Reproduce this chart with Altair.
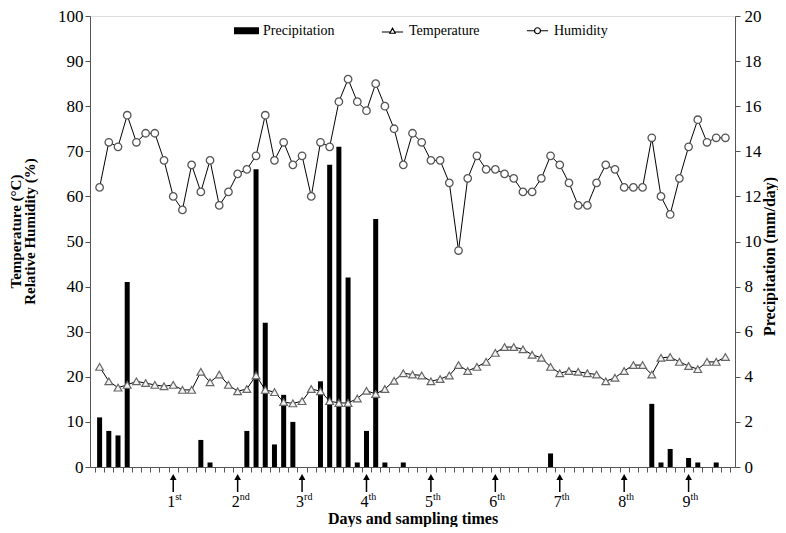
import altair as alt
import pandas as pd

# ---- data ----
humidity = [62, 72, 71, 78, 72, 74, 74, 68, 60, 57, 67, 61, 68, 58, 61, 65, 66, 69, 78, 68,
            72, 67, 69, 60, 72, 71, 81, 86, 81, 79, 85, 80, 75, 67, 74, 72, 68, 68, 63, 48,
            64, 69, 66, 66, 65, 64, 61, 61, 64, 69, 67, 63, 58, 58, 63, 67, 66, 62, 62, 62,
            73, 60, 56, 64, 71, 77, 72, 73, 73]
temperature = [22.2, 19.0, 17.6, 18.2, 19.0, 18.6, 18.2, 17.9, 18.2, 17.1, 17.1, 21.1, 18.8, 20.5,
               18.2, 16.8, 17.3, 20.3, 17.1, 16.6, 14.4, 14.1, 14.6, 17.3, 16.8, 14.6, 14.2, 14.2,
               15.2, 16.9, 16.2, 17.3, 19.1, 20.8, 20.5, 20.3, 19.0, 19.5, 20.3, 22.6, 21.3, 22.2,
               23.3, 25.3, 26.6, 26.6, 26.1, 24.9, 24.2, 22.2, 20.8, 21.3, 21.1, 20.8, 20.5, 19.0,
               19.8, 21.3, 22.6, 22.6, 20.5, 24.2, 24.4, 23.3, 22.4, 21.7, 23.3, 23.3, 24.4]
precipitation = [2.2, 1.6, 1.4, 8.2, 0, 0, 0, 0, 0, 0, 0, 1.2, 0.2, 0, 0, 0, 1.6, 13.2, 6.4, 1.0,
                 3.2, 2.0, 0, 0, 3.8, 13.4, 14.2, 8.4, 0.2, 1.6, 11.0, 0.2, 0, 0.2, 0, 0, 0, 0, 0, 0,
                 0, 0, 0, 0, 0, 0, 0, 0, 0, 0.6, 0, 0, 0, 0, 0, 0, 0, 0, 0, 0,
                 2.8, 0.2, 0.8, 0, 0.4, 0.2, 0, 0.2, 0]
sampling_days = [8, 15, 22, 29, 36, 43, 50, 57, 64]
sampling_nums = ["1", "2", "3", "4", "5", "6", "7", "8", "9"]
sampling_sups = ["st", "nd", "rd", "th", "th", "th", "th", "th", "th"]
series_names = ["Precipitation", "Temperature", "Humidity"]

n = len(humidity)
df = pd.DataFrame({"day": list(range(n)), "hum": humidity, "temp": temperature, "prec": precipitation})
samp = pd.DataFrame({"day": sampling_days, "num": sampling_nums, "sup": sampling_sups})
leg = pd.DataFrame({"series": series_names})

FONT = "Liberation Serif"
W, H = 645, 451
AX = "#555555"

xscale = alt.Scale(domain=[-0.5, n - 0.5], nice=False, zero=False)
xaxis = alt.Axis(values=[i - 0.5 for i in range(n + 1)], labels=False, tickSize=5, grid=False,
                 domainColor=AX, tickColor=AX, title="Days and sampling times",
                 titleFont=FONT, titleFontSize=16, titleFontWeight="bold", titleColor="black",
                 titleX=W / 2, titleY=51, titleBaseline="middle")
X = alt.X("day:Q", scale=xscale, axis=xaxis)

left_axis = alt.Axis(orient="left", values=list(range(0, 101, 10)), grid=False, tickSize=5,
                     labelPadding=2, labelFont=FONT, labelFontSize=17, labelColor="black",
                     domainColor=AX, tickColor=AX,
                     title=["Temperature (°C)", "Relative Humidity (%)"], titleFont=FONT,
                     titleFontSize=15, titleFontWeight="bold", titleColor="black",
                     titleX=-75, titleY=215, titleBaseline="middle", titleAlign="center",
                     titleAngle=270, titleLineHeight=14)
right_axis = alt.Axis(orient="right", values=list(range(0, 21, 2)), grid=False, tickSize=5,
                      labelPadding=4, labelFont=FONT, labelFontSize=17, labelColor="black",
                      domainColor=AX, tickColor=AX,
                      title="Precipitation (mm/day)", titleFont=FONT, titleFontSize=16,
                      titleFontWeight="bold", titleColor="black", titleAngle=270,
                      titleX=34, titleY=240, titleBaseline="middle", titleAlign="center")

lscale = alt.Scale(domain=[0, 100], nice=False, zero=True)
rscale = alt.Scale(domain=[0, 20], nice=False, zero=True)

bars = alt.Chart(df).mark_bar(size=5, color="black").encode(
    x=X, y=alt.Y("prec:Q", scale=rscale, axis=right_axis))

base = alt.Chart(df)
temp_line = base.mark_line(color="black", strokeWidth=1).encode(
    x=X, y=alt.Y("temp:Q", scale=lscale, axis=left_axis))
temp_pts = base.mark_point(shape="triangle-up", filled=True, fill="#f3f3f3", stroke="#666666",
                           strokeWidth=1.2, size=60, opacity=1).encode(
    x=X, y=alt.Y("temp:Q", scale=lscale, axis=left_axis))
hum_line = base.mark_line(color="black", strokeWidth=1).encode(
    x=X, y=alt.Y("hum:Q", scale=lscale, axis=left_axis))
hum_pts = base.mark_point(shape="circle", filled=True, fill="white", stroke="#555555",
                          strokeWidth=1.3, size=56, opacity=1).encode(
    x=X, y=alt.Y("hum:Q", scale=lscale, axis=left_axis))

sbase = alt.Chart(samp)
arrow_shaft = sbase.mark_rule(color="black", strokeWidth=1.5).encode(
    x=X, y=alt.value(464), y2=alt.value(476))
arrow_head = sbase.mark_point(shape="triangle-up", filled=True, color="black", size=45,
                              opacity=1).encode(x=X, y=alt.value(461))
lab_num = sbase.mark_text(font=FONT, fontSize=16, align="right", baseline="middle", dx=2,
                          color="black").encode(x=X, y=alt.value(486), text="num:N")
lab_sup = sbase.mark_text(font=FONT, fontSize=10, align="left", baseline="middle", dx=2,
                          color="black").encode(x=X, y=alt.value(481), text="sup:N")

rect_lines = "".join("M-1,%.2fH1" % (v / 100) for v in range(-24, 25, 3))
paths = [
    rect_lines,
    "M-0.85,0.1H-0.2M0.2,0.1H0.85M-0.22,0.2L0,-0.2L0.22,0.2Z",
    "M-0.85,0H-0.24M0.24,0H0.85M-0.24,0A0.24,0.24 0 1,0 0.24,0A0.24,0.24 0 1,0 -0.24,0Z",
]
legend = alt.Legend(orient="none", legendX=143, legendY=1, direction="horizontal", title=None,
                    labelFont=FONT, labelFontSize=14, labelColor="black", symbolSize=625,
                    columnPadding=44, labelOffset=3, symbolStrokeWidth=1.2,
                    symbolFillColor="white")
leg_layer = alt.Chart(leg).mark_point(filled=True, opacity=0, fill="white").encode(
    x=alt.value(0), y=alt.value(0),
    shape=alt.Shape("series:N", scale=alt.Scale(domain=series_names, range=paths), legend=legend),
    stroke=alt.Stroke("series:N", scale=alt.Scale(domain=series_names, range=["black", "black", "black"]),
                      legend=legend),
)

left = alt.layer(temp_line, hum_line, temp_pts, hum_pts, arrow_shaft, arrow_head, lab_num, lab_sup,
                 leg_layer)

chart = alt.layer(bars, left).resolve_scale(y="independent").properties(
    width=W, height=H,
    autosize=alt.AutoSizeParams(type="none"),
    padding={"left": 82, "top": 8, "right": 43, "bottom": 60},
).configure_view(stroke=AX, strokeWidth=1).configure(font=FONT)

chart.save("out.html", embed_options={"renderer": "svg", "actions": False})
